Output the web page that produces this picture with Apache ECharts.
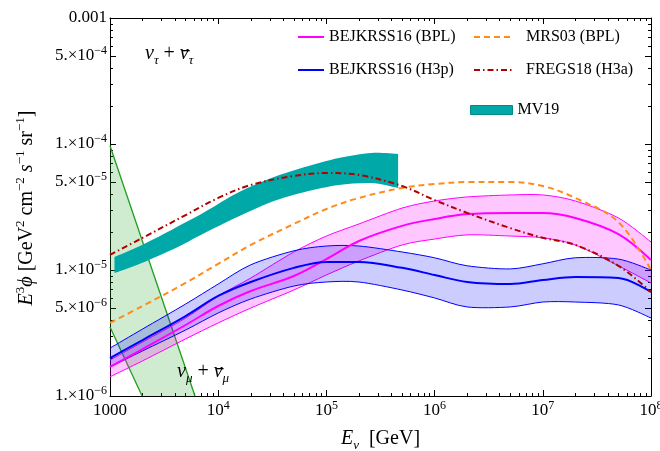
<!DOCTYPE html>
<html><head><meta charset="utf-8">
<script src="https://cdn.jsdelivr.net/npm/echarts@6/dist/echarts.min.js"></script>
<style>html,body{margin:0;padding:0;background:#fff}#c{width:660px;height:451px}</style>
</head><body><div id="c"></div>
<script>
// ---------------- data ----------------
const energy = [1e3,2e3,5e3,1e4,2e4,5e4,1e5,2e5,5e5,1e6,2e6,5e6,1e7,2e7,5e7,1e8];
const bplUpper  = [1.93e-6,2.68e-6,4.16e-6,6.22e-6,8.64e-6,1.39e-5,1.86e-5,2.32e-5,3.10e-5,3.53e-5,3.80e-5,3.94e-5,3.94e-5,3.53e-5,2.59e-5,1.67e-5];
const bplCenter = [1.70e-6,2.36e-6,3.66e-6,5.18e-6,6.81e-6,8.96e-6,1.22e-5,1.70e-5,2.24e-5,2.54e-5,2.78e-5,2.84e-5,2.84e-5,2.59e-5,1.93e-5,1.20e-5];
const bplLower  = [1.42e-6,1.90e-6,2.84e-6,3.80e-6,4.99e-6,6.94e-6,9.13e-6,1.18e-5,1.58e-5,1.76e-5,1.90e-5,1.86e-5,1.80e-5,1.58e-5,1.08e-5,7.89e-6];
const h3pUpper  = [2.40e-6,3.40e-6,5.37e-6,7.74e-6,1.10e-5,1.42e-5,1.55e-5,1.55e-5,1.39e-5,1.25e-5,1.08e-5,1.02e-5,1.12e-5,1.25e-5,1.22e-5,1.00e-5];
const h3pCenter = [2.00e-6,2.78e-6,4.31e-6,6.22e-6,8.03e-6,1.04e-5,1.16e-5,1.16e-5,1.04e-5,9.13e-6,8.03e-6,7.74e-6,8.33e-6,8.80e-6,8.64e-6,6.69e-6];
const h3pLower  = [1.70e-6,2.28e-6,3.34e-6,4.56e-6,5.89e-6,7.46e-6,8.03e-6,8.03e-6,6.94e-6,6.00e-6,5.09e-6,5.09e-6,5.57e-6,5.57e-6,5.28e-6,4.16e-6];
const mrs03     = [3.80e-6,5.18e-6,7.89e-6,1.12e-5,1.58e-5,2.32e-5,3.05e-5,3.73e-5,4.48e-5,4.81e-5,4.99e-5,4.99e-5,4.64e-5,3.73e-5,2.40e-5,1.00e-5];
const fregs18   = [1.32e-5,1.80e-5,2.73e-5,3.73e-5,4.73e-5,5.57e-5,5.89e-5,5.68e-5,4.64e-5,3.59e-5,2.84e-5,2.15e-5,1.80e-5,1.58e-5,1.08e-5,6.69e-6];

const mv19E     = [1.1e3,1.8e3,3.7e3,7.5e3,1.5e4,3.1e4,6.3e4,1.3e5,2.6e5,4.6e5];
const mv19Upper = [1.27e-5,1.52e-5,2.08e-5,2.88e-5,4.08e-5,5.37e-5,6.56e-5,7.74e-5,8.49e-5,8.34e-5];
const mv19Lower = [9.46e-6,1.10e-5,1.44e-5,1.97e-5,2.64e-5,3.47e-5,4.16e-5,4.73e-5,4.90e-5,4.48e-5];

const numuUpperE = [1e3, 6.1e3];
const numuUpperV = [9.7e-5, 1e-6];
const numuLowerE = [1e3, 1.98e3];
const numuLowerV = [3.53e-6, 1e-6];

const xMajorTicks = [1e3,1e4,1e5,1e6,1e7,1e8];
const yMajorTicks = [1e-6,5e-6,1e-5,5e-5,1e-4,5e-4,1e-3];
const legendRow1 = ['BEJKRSS16 (BPL)','BEJKRSS16 (H3p)'];
const legendRow2 = ['MRS03 (BPL)','FREGS18 (H3a)'];
const legendRow3 = ['MV19'];
// --------------------------------------

const FN = '"Liberation Serif"';
const F = '"Liberation Serif","DejaVu Serif",serif';
const xMinorTicks = [], yMinorTicks = [];
for (let d = 3; d < 8; d++) for (let k = 2; k <= 9; k++) xMinorTicks.push(k * Math.pow(10, d));
for (let d = -6; d < -3; d++) for (let k = 2; k <= 9; k++) yMinorTicks.push(k * Math.pow(10, d));

function rawVal(v, isY) {
  if (isY) return v < 0 ? Math.pow(10, v) : v;
  return v < 100 ? Math.pow(10, v) : v;
}
function xFmt(v) {
  v = rawVal(v, false);
  const e = Math.round(Math.log10(v));
  if (e === 3) return '{b|1000}';
  return '{b|10}{s|' + e + '}';
}
function yFmt(v) {
  v = rawVal(v, true);
  const e = Math.floor(Math.log10(v) + 1e-9);
  const m = Math.round(v / Math.pow(10, e));
  if (e === -3 && m === 1) return '{b|0.001}';
  return '{b|' + m + '.×10}{s|−' + (-e) + '}';
}
const tickRich = {
  b: {fontFamily: F, fontSize: 17, color: '#000', lineHeight: 22},
  s: {fontFamily: F, fontSize: 12, color: '#000', lineHeight: 13, verticalAlign: 'top'}
};
const axLine = {show: true, lineStyle: {color: '#000', width: 1}};

function xAx(pos, major) {
  return {
    type: 'log', logBase: 10, min: 1e3, max: 1e8, position: pos, gridIndex: 0,
    axisLine: major ? axLine : {show: false},
    axisTick: {show: true, inside: true, length: major ? 6 : 3, customValues: major ? xMajorTicks : xMinorTicks, lineStyle: {color: '#000', width: 1}},
    axisLabel: (pos === 'bottom' && major) ? {show: true, customValues: xMajorTicks, formatter: xFmt, rich: tickRich, margin: 4} : {show: false},
    splitLine: {show: false}, minorTick: {show: false},
    name: (pos === 'bottom' && major) ? '{i|E}{sub|ν}{t|  [GeV]}' : '',
    nameLocation: 'middle', nameGap: 30, nameMoveOverlap: false,
    nameTextStyle: {fontFamily: F, fontSize: 20, color: '#000', rich: {
      i: {fontFamily: F, fontSize: 20, fontStyle: 'italic', lineHeight: 26},
      sub: {fontFamily: F, fontSize: 13, fontStyle: 'italic', verticalAlign: 'bottom', lineHeight: 16},
      t: {fontFamily: F, fontSize: 20, lineHeight: 26}
    }},
    silent: true
  };
}
function yAx(pos, major) {
  return {
    type: 'log', logBase: 10, min: 1e-6, max: 1e-3, position: pos, gridIndex: 0,
    axisLine: major ? axLine : {show: false},
    axisTick: {show: true, inside: true, length: major ? 6 : 3, customValues: major ? yMajorTicks : yMinorTicks, lineStyle: {color: '#000', width: 1}},
    axisLabel: (pos === 'left' && major) ? {show: true, customValues: yMajorTicks, formatter: yFmt, rich: tickRich, margin: 3} : {show: false},
    splitLine: {show: false}, minorTick: {show: false},
    silent: true
  };
}

// Catmull-Rom -> cubic Bezier path through pixel points (rendering only)
function bez(pts, start) {
  let d = start ? 'M' + pts[0][0] + ',' + pts[0][1] : 'L' + pts[0][0] + ',' + pts[0][1];
  const n = pts.length, t = 0.9;
  for (let i = 0; i < n - 1; i++) {
    const p0 = pts[Math.max(i - 1, 0)], p1 = pts[i], p2 = pts[i + 1], p3 = pts[Math.min(i + 2, n - 1)];
    const c1x = p1[0] + (p2[0] - p0[0]) / 6 * t, c1y = p1[1] + (p2[1] - p0[1]) / 6 * t;
    const c2x = p2[0] - (p3[0] - p1[0]) / 6 * t, c2y = p2[1] - (p3[1] - p1[1]) / 6 * t;
    d += 'C' + c1x + ',' + c1y + ',' + c2x + ',' + c2y + ',' + p2[0] + ',' + p2[1];
  }
  return d;
}
function bandRender(Es, up, lo, fill, stroke) {
  return function (params, api) {
    if (params.dataIndex !== 0) return;
    const pu = Es.map((e, i) => api.coord([e, up[i]]));
    const pl = Es.map((e, i) => api.coord([e, lo[i]]));
    const plr = pl.slice().reverse();
    const children = [{type: 'path', shape: {pathData: bez(pu, true) + bez(plr, false) + 'Z'}, style: {fill: fill}}];
    if (stroke) {
      children.push({type: 'path', shape: {pathData: bez(pu, true)}, style: {fill: null, stroke: stroke, lineWidth: 1}});
      children.push({type: 'path', shape: {pathData: bez(pl, true)}, style: {fill: null, stroke: stroke, lineWidth: 1}});
    }
    return {type: 'group', children: children};
  };
}
function numuRender(params, api) {
  if (params.dataIndex !== 0) return;
  const pu = numuUpperE.map((e, i) => api.coord([e, numuUpperV[i]]));
  const pl = numuLowerE.map((e, i) => api.coord([e, numuLowerV[i]]));
  return {type: 'group', children: [
    {type: 'polygon', shape: {points: pu.concat(pl.slice().reverse())}, style: {fill: 'rgba(40,170,40,0.22)'}},
    {type: 'polyline', shape: {points: pu}, style: {stroke: '#1f9e1f', lineWidth: 1.3, fill: null}},
    {type: 'polyline', shape: {points: pl}, style: {stroke: '#1f9e1f', lineWidth: 1.3, fill: null}}
  ]};
}

const pairs = a => energy.map((e, i) => [e, a[i]]);
const SM = 0.35;
const MAG = '#ff00ff', BLU = '#0000ff';
const series = [
  {type: 'custom', name: 'numu', renderItem: numuRender, data: [[1e3, 1e-5]], z: 1, silent: true},
  {type: 'custom', name: 'bplBand', renderItem: bandRender(energy, bplUpper, bplLower, 'rgba(255,0,255,0.22)', MAG), data: [[1e4, 1e-5]], z: 2, silent: true},
  {type: 'custom', name: 'h3pBand', renderItem: bandRender(energy, h3pUpper, h3pLower, 'rgba(0,0,255,0.2)', BLU), data: [[1e4, 1e-5]], z: 3, silent: true},
  {type: 'line', name: 'BEJKRSS16 (BPL)', data: pairs(bplCenter), smooth: SM, symbol: 'none',
   lineStyle: {color: MAG, width: 2}, itemStyle: {color: MAG}, z: 4},
  {type: 'line', name: 'BEJKRSS16 (H3p)', data: pairs(h3pCenter), smooth: SM, symbol: 'none',
   lineStyle: {color: BLU, width: 2}, itemStyle: {color: BLU}, z: 4},
  {type: 'custom', name: 'MV19', renderItem: bandRender(mv19E, mv19Upper, mv19Lower, '#00a9a8', null), data: [[1e4, 1e-5]],
   itemStyle: {color: '#00a9a8'}, z: 5, silent: true},
  {type: 'line', name: 'MRS03 (BPL)', data: pairs(mrs03), smooth: SM, symbol: 'none',
   lineStyle: {color: '#ff8c1a', width: 2, type: [6, 4]}, itemStyle: {color: '#ff8c1a'}, z: 6},
  {type: 'line', name: 'FREGS18 (H3a)', data: pairs(fregs18), smooth: SM, symbol: 'none',
   lineStyle: {color: '#b00000', width: 2, type: [6, 3, 1.5, 3]}, itemStyle: {color: '#b00000'}, z: 7}
];

// measure text so the anti-neutrino bar sits over the second nu
const mctx = document.createElement('canvas').getContext('2d');
function mw(t, font) { mctx.font = font; return mctx.measureText(t).width; }
const annFont = 20, annSub = 13;
function nuLabel(left, top, flav) {
  const wNu = mw('ν', 'italic ' + annFont + 'px ' + FN);
  const wSub = mw(flav, 'italic ' + annSub + 'px ' + FN);
  const wPlus = mw(' + ', annFont + 'px ' + FN);
  const bx = left + wNu + wSub + wPlus;
  return [
    {type: 'text', left: left, top: top, silent: true, z: 100, style: {
      text: '{i|ν}{s|' + flav + '}{t| + }{i|ν}{s|' + flav + '}', rich: {
        i: {fontFamily: F, fontSize: annFont, fontStyle: 'italic', lineHeight: 26},
        s: {fontFamily: F, fontSize: annSub, fontStyle: 'italic', verticalAlign: 'bottom', lineHeight: 17},
        t: {fontFamily: F, fontSize: annFont, lineHeight: 26}}}},
    {type: 'rect', silent: true, z: 100, shape: {x: bx + 2, y: top + 6, width: Math.max(wNu - 1, 6), height: 1.3}, style: {fill: '#000'}}
  ];
}

const legTxt = {fontFamily: F, fontSize: 16, color: '#000'};
const option = {
  animation: false,
  backgroundColor: '#fff',
  grid: {left: 110, right: 9, top: 18, bottom: 55, containLabel: false, outerBoundsMode: 'none'},
  xAxis: [xAx('bottom', true), xAx('bottom', false), xAx('top', true), xAx('top', false)],
  yAxis: [yAx('left', true), yAx('left', false), yAx('right', true), yAx('right', false)],
  legend: [
    {data: legendRow1, left: 292, top: 24, orient: 'vertical', itemWidth: 26, itemHeight: 14, itemGap: 17, textStyle: legTxt, selectedMode: false,
     itemStyle: {opacity: 0}},
    {data: legendRow2, left: 468, top: 24, orient: 'vertical', itemWidth: 39, itemHeight: 14, itemGap: 17, textStyle: Object.assign({padding: [0, 0, 0, 8]}, legTxt), selectedMode: false,
     itemStyle: {opacity: 0}},
    {data: legendRow3, left: 465, top: 97, orient: 'vertical', icon: 'rect', itemWidth: 42, itemHeight: 9, textStyle: legTxt, selectedMode: false,
     itemStyle: {borderColor: '#008a88', borderWidth: 1}}
  ],
  graphic: [].concat(
    nuLabel(145, 44, 'τ'),
    nuLabel(177, 362, 'μ'),
    [{type: 'text', x: 27, y: 208, rotation: Math.PI / 2, silent: true, style: {
      text: '{i|E}{s|3}{i|ϕ}{t| [GeV}{s|2}{t| cm}{s|−2}{t| }{i|s}{s|−1}{t| sr}{s|−1}{t|]}',
      align: 'center', verticalAlign: 'middle', rich: {
        i: {fontFamily: F, fontSize: 20, fontStyle: 'italic', lineHeight: 26},
        s: {fontFamily: F, fontSize: 13, verticalAlign: 'top', lineHeight: 15},
        t: {fontFamily: F, fontSize: 20, lineHeight: 26}}}}]
  ),
  series: series
};
const chart = echarts.init(document.getElementById('c'), null, {renderer: 'canvas'});
chart.setOption(option);
</script>
</body></html>
